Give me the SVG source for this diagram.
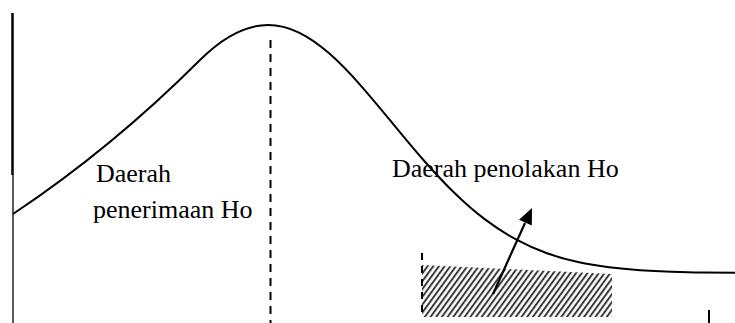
<svg xmlns="http://www.w3.org/2000/svg" width="735" height="323" viewBox="0 0 735 323">
  <style>
    text { font-family: "Liberation Serif", "Times New Roman", "DejaVu Serif", serif; font-size: 26px; fill: #000; }
    .curve { fill: none; stroke: #000; stroke-width: 2; }
    .dash { stroke: #000; stroke-width: 2; fill: none; }
  </style>
  <defs>
    <pattern id="hatch" width="4.6" height="10" patternUnits="userSpaceOnUse" patternTransform="rotate(36)">
      <rect x="0" y="0" width="2" height="10" fill="#3a3a3a"/>
    </pattern>
  </defs>
  <rect width="735" height="323" fill="#fff"/>

  <g id="axis">
    <line x1="12.5" y1="13" x2="12.5" y2="175" stroke="#000" stroke-width="2.5"/>
    <line x1="13" y1="175" x2="13" y2="323" stroke="#000" stroke-width="1.3"/>
  </g>

  <g id="curve">
    <path class="curve" d="M13,214 C73,174 140,120 200,60 C223,37 245,25 268,25 C278.33,25 288.67,27.59 299,32.6 C309.33,37.61 319.67,44.98 330,54.1 C340.33,63.22 350.67,74.1 361,85.8 C371.33,97.5 381.67,110.07 392,122.6 C402.33,135.13 412.67,147.67 423,159.5 C433.33,171.33 443.67,182.43 454,192.5 C464.33,202.57 474.67,211.58 485,219.4 C495.33,227.22 505.67,233.81 516,239.4 C526.33,244.99 536.67,249.6 547,253.3 C557.33,257 567.67,259.83 578,262.1 C588.33,264.37 598.67,266 609,267.3 C619.33,268.6 629.67,269.51 640,270.2 C650.33,270.89 660.67,271.36 671,271.7 C681.33,272.04 691.67,272.34 702,272.5 C713,272.66 724,272.73 735,272.8"/>
  </g>

  <g id="mean-line">
    <line class="dash" x1="270.5" y1="40" x2="270.5" y2="323" stroke-dasharray="8 6"/>
  </g>

  <g id="rejection-area">
    <polygon points="422,265 612,274 612,317 422,317" fill="url(#hatch)"/>
    <line class="dash" x1="422" y1="253" x2="422" y2="317" stroke-dasharray="7 6"/>
  </g>

  <g id="tick">
    <line x1="709" y1="310" x2="709" y2="323" stroke="#000" stroke-width="2"/>
  </g>

  <g id="connectors">
    <line x1="493" y1="294" x2="525" y2="223" stroke="#000" stroke-width="2.2"/>
    <polygon points="532,208 531.8,225.5 519,219.7" fill="#000"/>
  </g>

  <g id="label-accept">
    <text x="96" y="182">Daerah</text>
    <text x="93" y="218">penerimaan Ho</text>
  </g>

  <g id="label-reject">
    <text x="392" y="177">Daerah penolakan Ho</text>
  </g>
</svg>
